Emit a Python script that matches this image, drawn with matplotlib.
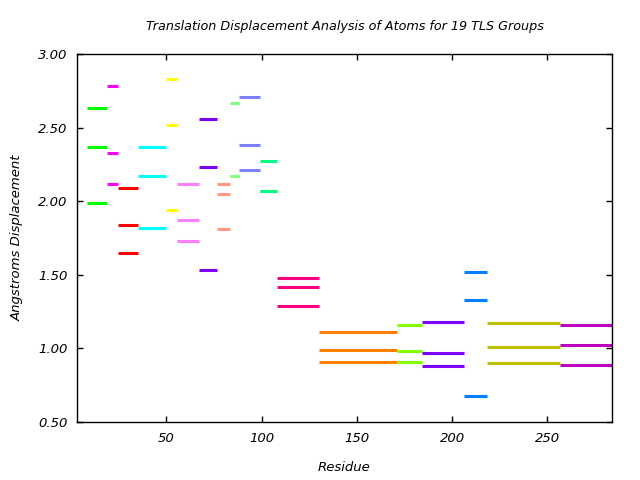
import matplotlib
matplotlib.use('Agg')
import matplotlib.pyplot as plt

# residue ranges of each TLS group
starts = [8, 18.5, 24.3, 35.3, 49.5, 55.3, 67.3, 76.3, 83.5, 88.3, 99.3, 108.3,
          130.3, 171.3, 184.3, 206.3, 218.3, 256.5]
ends = [18.5, 24.3, 35.3, 49.5, 55.3, 67.3, 76.3, 83.5, 88.3, 99.3, 108.3, 130.3,
        171.3, 184.3, 206.3, 218.3, 256.5, 284.5]

# translation displacement along the three principal axes
disp_1 = [2.63, 2.78, 2.09, 2.37, 2.83, 2.12, 2.56, 2.12, 2.67, 2.71, 2.27, 1.48,
          1.11, 1.16, 1.18, 1.52, 1.17, 1.16]
disp_2 = [2.37, 2.33, 1.84, 2.17, 2.52, 1.87, 2.23, 2.05, 2.17, 2.38, 2.07, 1.42,
          0.99, 0.98, 0.97, 1.33, 1.01, 1.02]
disp_3 = [1.99, 2.12, 1.65, 1.82, 1.94, 1.73, 1.53, 1.81, 2.17, 2.21, 2.07, 1.29,
          0.91, 0.91, 0.88, 0.68, 0.90, 0.89]

colors = ['#00ff00', '#ff00ff', '#ff0000', '#00ffff', '#ffff00', '#ff80ff',
          '#8000ff', '#ff9980', '#80ff80', '#8080ff', '#00ff80', '#ff0080',
          '#ff8000', '#80ff00', '#8000ff', '#0080ff', '#c0c000', '#c000c0']

fig = plt.figure(figsize=(6.4, 4.8), dpi=100)
ax = fig.add_axes([0.1203, 0.1208, 0.8359, 0.7667])

for vals in (disp_1, disp_2, disp_3):
    ax.hlines(vals, starts, ends, colors=colors, linewidth=2.2, capstyle='butt')

ax.set_xlim(3, 284)
ax.set_ylim(0.5, 3.0)
ax.set_xticks([50, 100, 150, 200, 250])
ax.set_yticks([0.5, 1.0, 1.5, 2.0, 2.5, 3.0])
ax.set_yticklabels(['%.2f' % v for v in ax.get_yticks()])
ax.tick_params(direction='in', top=True, right=True, length=4, width=1,
               labelsize=9.5, pad=7)
for lbl in ax.get_xticklabels() + ax.get_yticklabels():
    lbl.set_fontstyle('italic')
for sp in ax.spines.values():
    sp.set_linewidth(1)

ax.set_title('Translation Displacement Analysis of Atoms for 19 TLS Groups',
             fontsize=9.2, style='italic', pad=17)
ax.set_xlabel('Residue', fontsize=9.5, style='italic', labelpad=12)
ax.set_ylabel('Angstroms Displacement', fontsize=9.5, style='italic', labelpad=10)

fig.savefig('out.png', dpi=100)
